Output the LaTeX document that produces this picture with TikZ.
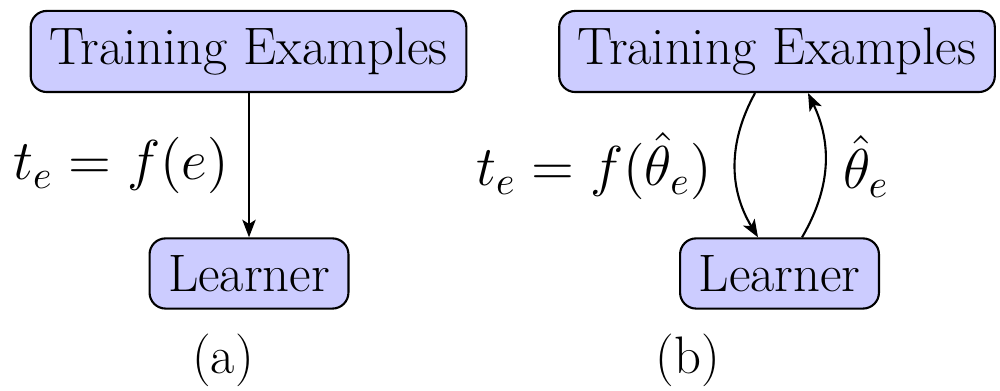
\RequirePackage{fix-cm}
\documentclass[tikz,border=0pt]{standalone}
\usetikzlibrary{arrows.meta}
\tikzset{
  box/.style={draw=black, line width=0.6pt, fill=blue!20, rounded corners=1.6mm,
    inner xsep=5.3pt, inner ysep=4.8pt, font=\fontsize{15}{18}\selectfont},
  lbl/.style={anchor=base, inner sep=0pt, font=\fontsize{16}{19}\selectfont},
  sublbl/.style={anchor=base, inner sep=0pt, font=\fontsize{15}{18}\selectfont},
  arr/.style={line width=0.6pt, -{Stealth[length=5pt,width=3.8pt,inset=1.2pt]}}
}
\begin{document}
\begin{tikzpicture}
\useasboundingbox (0,0) rectangle (10,3.91);
% (a)
\node[box] (teA) at (2.485,3.395) {Training Examples};
\node[box] (lA) at (2.49,1.175) {Learner};
\draw[arr] (teA.south -| lA.north) -- (lA.north);
\node[lbl] (fa) at (1.21,2.11) {$t_e = f(e)$};
\node[sublbl] (ca) at (2.23,0.17) {(a)};
% (b)
\node[box] (teB) at (7.77,3.395) {Training Examples};
\node[box] (lB) at (7.795,1.175) {Learner};
\coordinate (b1) at ([xshift=-0.22cm]teB.south);
\coordinate (b2) at ([xshift=-0.215cm]lB.north);
\coordinate (b3) at ([xshift=0.225cm]lB.north);
\coordinate (b4) at ([xshift=0.31cm]teB.south);
\draw[arr] (b1) to[bend right=30] (b2);
\draw[arr] (b3) to[bend right=28] (b4);
\node[lbl] (fb) at (5.94,2.05) {$t_e = f(\hat{\theta}_e)$};
\node[lbl] (th) at (8.66,2.02) {$\hat{\theta}_e$};
\node[sublbl] (cb) at (6.88,0.17) {(b)};
\end{tikzpicture}
\end{document}
